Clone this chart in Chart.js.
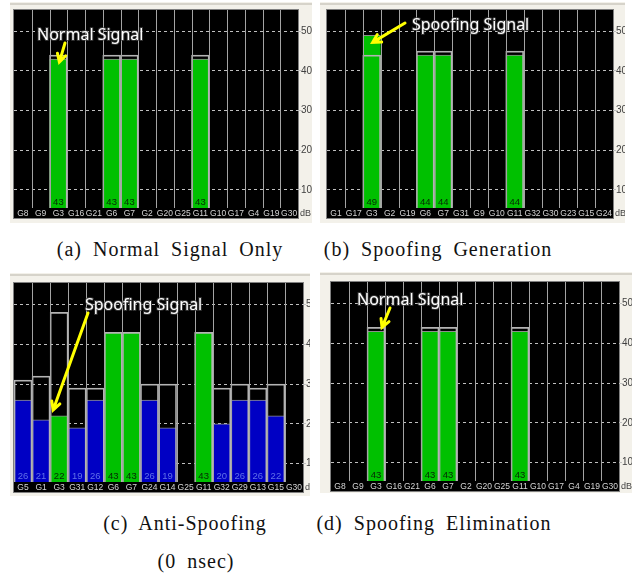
<!DOCTYPE html>
<html>
<head>
<meta charset="utf-8">
<script src="https://cdn.jsdelivr.net/npm/chart.js@4.4.0/dist/chart.umd.min.js"></script>
<style>
  body { margin: 0; background: #ffffff; }
  #wrap { position: relative; width: 635px; height: 577px; overflow: hidden; }
  canvas { position: absolute; }
  .cap { position: absolute; font-family: "Liberation Serif", serif; font-size: 20px; color: #111;
         white-space: nowrap; letter-spacing: 1px; word-spacing: 5px; transform: translateX(-50%); }
</style>
</head>
<body>
<div id="wrap">
  <canvas id="chartA" width="302" height="221" style="left:10px; top:2px;"></canvas>
  <canvas id="chartB" width="305" height="221" style="left:320px; top:2px;"></canvas>
  <canvas id="chartC" width="300" height="223" style="left:10px; top:273px;"></canvas>
  <canvas id="chartD" width="312" height="221" style="left:320px; top:272px;"></canvas>
  <div class="cap" style="left:170px; top:238px;">(a) Normal Signal Only</div>
  <div class="cap" style="left:438px; top:238px;">(b) Spoofing Generation</div>
  <div class="cap" style="left:185px; top:512px;">(c) Anti-Spoofing</div>
  <div class="cap" style="left:434px; top:512px;">(d) Spoofing Elimination</div>
  <div class="cap" style="left:196px; top:550px;">(0 nsec)</div>
</div>
<script>
// signal strength (dB) per satellite, peak = held maximum outline
const labelsA = ['G8','G9','G3','G16','G21','G6','G7','G2','G20','G25','G11','G10','G17','G4','G19','G30'];
const valuesA = [null, null, 43, null, null, 43, 43, null, null, null, 43, null, null, null, null, null];
const peaksA  = [null, null, 44, null, null, 44, 44, null, null, null, 44, null, null, null, null, null];

const labelsB = ['G1','G17','G3','G2','G19','G6','G7','G31','G9','G10','G11','G32','G30','G23','G15','G24'];
const valuesB = [null, null, 49, null, null, 44, 44, null, null, null, 44, null, null, null, null, null];
const peaksB  = [null, null, 44, null, null, 45, 45, null, null, null, 45, null, null, null, null, null];

const labelsC = ['G5','G1','G3','G31','G12','G6','G7','G24','G14','G25','G11','G32','G29','G13','G15','G30'];
const valuesC = [26, 21, 22, 19, 26, 43, 43, 26, 19, null, 43, 20, 26, 26, 22, null];
const peaksC  = [31, 32, 48, 29, 29, 43, 43, 30, 30, null, 43, 29, 30, 29, 30, null];

const labelsD = ['G8','G9','G3','G16','G21','G6','G7','G2','G20','G25','G11','G10','G17','G4','G19','G30'];
const valuesD = [null, null, 43, null, null, 43, 43, null, null, null, 43, null, null, null, null, null];
const peaksD  = [null, null, 44, null, null, 44, 44, null, null, null, 44, null, null, null, null, null];

// satellites used in the navigation solution (drawn green)
const usedSats = ['G3', 'G6', 'G7', 'G11'];
const yTicks = [10, 20, 30, 40, 50];

const GREEN = '#00c000';
const BLUE = '#0000c4';
const SMALL_FONT = '"Liberation Sans", sans-serif';

const panelPlugin = {
    id: 'panel',
    beforeDraw(chart) {
        const ctx = chart.ctx;
        const a = chart.chartArea;
        const xs = chart.scales.x;
        ctx.save();
        ctx.fillStyle = '#f3f1ea';
        ctx.fillRect(0, 0, chart.width, chart.height);
        ctx.fillStyle = '#d6d3ca';
        ctx.fillRect(0, 1, chart.width, 2);
        ctx.fillStyle = '#000000';
        ctx.fillRect(a.left, a.top, a.right - a.left, xs.bottom - a.top);
        ctx.strokeStyle = '#808080';
        ctx.lineWidth = 1;
        ctx.strokeRect(a.left - 0.5, a.top - 0.5, a.right - a.left + 1, xs.bottom - a.top + 1);
        ctx.restore();
    },
    afterDatasetsDraw(chart) {
        const ctx = chart.ctx;
        const a = chart.chartArea;
        const xs = chart.scales.x;
        const ys = chart.scales.y;
        const n = chart.data.labels.length;
        const step = (a.right - a.left) / n;
        ctx.save();
        // column separators
        ctx.strokeStyle = '#a4a4a4';
        ctx.lineWidth = 1;
        for (let i = 1; i < n; i++) {
            const x = Math.round(a.left + i * step) + 0.5;
            ctx.beginPath();
            ctx.moveTo(x, a.top);
            ctx.lineTo(x, a.bottom);
            ctx.stroke();
        }
        // values at bar bottom
        ctx.font = '9.5px ' + SMALL_FONT;
        ctx.textAlign = 'center';
        ctx.textBaseline = 'middle';
        const vals = chart.data.datasets[1].data;
        vals.forEach((v, i) => {
            if (v == null) return;
            const lab = chart.data.labels[i];
            ctx.fillStyle = usedSats.includes(lab) ? '#062806' : '#6070e8';
            ctx.fillText(String(v), xs.getPixelForValue(i), a.bottom - 6);
        });
        // dB unit
        ctx.fillStyle = '#404040';
        ctx.font = '9px ' + SMALL_FONT;
        ctx.textAlign = 'left';
        ctx.fillText('dB', a.right + 2, (a.bottom + xs.bottom) / 2 + 1);
        // annotation
        const note = chart.options.plugins.panel;
        if (note) {
            ctx.font = '16px "Noto Sans", sans-serif';
            ctx.textBaseline = 'middle';
            ctx.lineWidth = 2;
            ctx.strokeStyle = 'rgba(70,70,70,0.7)';
            ctx.strokeText(note.text, note.tx, note.ty);
            ctx.fillStyle = '#ffffff';
            ctx.fillText(note.text, note.tx, note.ty);
            const idx = chart.data.labels.indexOf(note.target);
            const tipX = xs.getPixelForValue(idx) + note.dx;
            const tipY = ys.getPixelForValue(vals[idx]) + note.dy;
            const ang = Math.atan2(tipY - note.fy, tipX - note.fx);
            ctx.strokeStyle = '#ffff00';
            ctx.lineWidth = 3;
            ctx.lineCap = 'round';
            ctx.beginPath();
            ctx.moveTo(note.fx, note.fy);
            ctx.lineTo(tipX, tipY);
            ctx.moveTo(tipX - 9 * Math.cos(ang - 0.5), tipY - 9 * Math.sin(ang - 0.5));
            ctx.lineTo(tipX, tipY);
            ctx.lineTo(tipX - 9 * Math.cos(ang + 0.5), tipY - 9 * Math.sin(ang + 0.5));
            ctx.stroke();
        }
        ctx.restore();
    }
};

function makeChart(id, labels, values, peaks, layout, note) {
    const colors = labels.map(l => usedSats.includes(l) ? GREEN : BLUE);
    new Chart(document.getElementById(id).getContext('2d'), {
        type: 'bar',
        data: {
            labels: labels,
            datasets: [
                {
                    label: 'peak',
                    data: peaks,
                    backgroundColor: 'rgba(0,0,0,0)',
                    borderColor: '#b4b4b4',
                    borderWidth: 1,
                    borderSkipped: 'bottom',
                    order: 0
                },
                {
                    label: 'signal',
                    data: values,
                    backgroundColor: colors,
                    borderColor: '#8c8c8c',
                    borderWidth: { top: 1, left: 0, right: 0, bottom: 0 },
                    borderSkipped: 'bottom',
                    order: 1
                }
            ]
        },
        options: {
            responsive: false,
            animation: false,
            events: [],
            layout: { padding: { left: layout.left, top: layout.top, right: 0, bottom: layout.bottom } },
            datasets: { bar: { grouped: false, barPercentage: 1, categoryPercentage: 1 } },
            scales: {
                x: {
                    grid: { display: false, drawTicks: false },
                    border: { display: false },
                    ticks: {
                        color: '#d4d4d4',
                        font: { size: 8.5, family: SMALL_FONT },
                        padding: 1,
                        maxRotation: 0,
                        autoSkip: false
                    },
                    afterFit: s => { s.height = 10; }
                },
                y: {
                    position: 'right',
                    min: 5.4,
                    max: 55.4,
                    afterBuildTicks: s => { s.ticks = yTicks.map(v => ({ value: v })); },
                    grid: { color: '#bfbfbf', tickLength: 3, lineWidth: 1 },
                    border: { display: false, dash: [3, 3] },
                    ticks: {
                        color: '#404040',
                        font: { size: 10, family: SMALL_FONT },
                        padding: 0
                    },
                    afterFit: s => { s.width = layout.axisW; }
                }
            },
            plugins: {
                legend: { display: false },
                tooltip: { enabled: false },
                panel: note
            }
        },
        plugins: [panelPlugin]
    });
}

makeChart('chartA', labelsA, valuesA, peaksA,
    { left: 4, top: 8, bottom: 5, axisW: 14 },
    { text: 'Normal Signal', tx: 27, ty: 33, fx: 55, fy: 41, target: 'G3', dx: 1, dy: 3 });
makeChart('chartB', labelsB, valuesB, peaksB,
    { left: 7, top: 8, bottom: 5, axisW: 12 },
    { text: 'Spoofing Signal', tx: 92, ty: 23, fx: 85, fy: 21, target: 'G3', dx: 1, dy: 7 });
makeChart('chartC', labelsC, valuesC, peaksC,
    { left: 4, top: 10, bottom: 4, axisW: 7 },
    { text: 'Spoofing Signal', tx: 75, ty: 32, fx: 78, fy: 40, target: 'G3', dx: -6, dy: -6 });
makeChart('chartD', labelsD, valuesD, peaksD,
    { left: 11, top: 10, bottom: 2, axisW: 13 },
    { text: 'Normal Signal', tx: 37, ty: 28, fx: 70, fy: 36, target: 'G3', dx: 6, dy: -4 });
</script>
</body>
</html>
